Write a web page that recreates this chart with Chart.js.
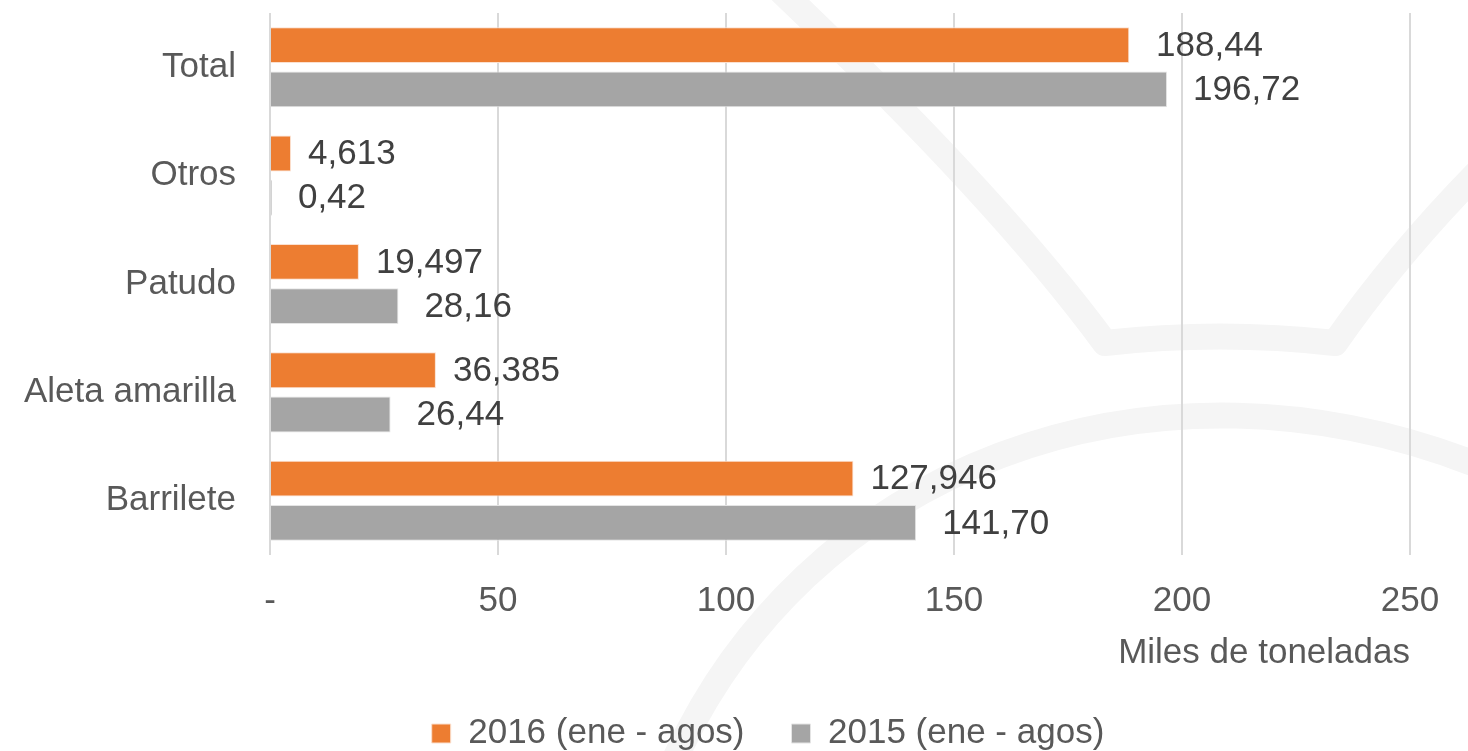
<!DOCTYPE html>
<html>
<head>
<meta charset="utf-8">
<script src="https://cdn.jsdelivr.net/npm/chart.js@4/dist/chart.umd.min.js"></script>
<style>
  html, body { margin: 0; padding: 0; background: #fff; }
  #wrap { width: 1468px; height: 751px; position: relative; }
</style>
</head>
<body>
<div id="wrap"><canvas id="capturasChart"></canvas></div>
<script>
// Datos del gráfico (miles de toneladas)
const especies = ['Total', 'Otros', 'Patudo', 'Aleta amarilla', 'Barrilete'];
const serie2016 = [188.44, 4.613, 19.497, 36.385, 127.946];
const serie2015 = [196.72, 0.42, 28.16, 26.44, 141.70];
const etiquetas2016 = [' 188,44', '4,613', '19,497', '36,385', '127,946'];
const etiquetas2015 = ['196,72', '0,42', '28,16', '26,44', '141,70'];
const ticksX = [0, 50, 100, 150, 200, 250];

const FONT = "'Liberation Sans', Arial, sans-serif";

// Marca de agua de fondo (trazos muy claros)
const marcaAgua = {
    id: 'marcaAgua',
    beforeDraw(chart) {
        const ctx = chart.ctx;
        ctx.save();
        ctx.strokeStyle = '#f5f5f5';
        ctx.lineWidth = 26;
        ctx.lineJoin = 'round';
        ctx.beginPath();
        ctx.moveTo(780, -10);
        ctx.quadraticCurveTo(1000, 200, 1105, 343);
        ctx.quadraticCurveTo(1220, 330, 1335, 343);
        ctx.quadraticCurveTo(1400, 250, 1490, 160);
        ctx.stroke();
        ctx.beginPath();
        ctx.moveTo(670, 770);
        ctx.bezierCurveTo(800, 470, 1150, 330, 1490, 470);
        ctx.stroke();
        ctx.restore();
    }
};

// Etiquetas de valor al final de cada barra
const etiquetasValor = {
    id: 'etiquetasValor',
    afterDatasetsDraw(chart) {
        const ctx = chart.ctx;
        const textos = [etiquetas2016, etiquetas2015];
        const gaps = [17, 26];
        ctx.save();
        ctx.font = '35px ' + FONT;
        ctx.fillStyle = '#404040';
        ctx.textBaseline = 'middle';
        ctx.textAlign = 'left';
        chart.data.datasets.forEach((ds, i) => {
            chart.getDatasetMeta(i).data.forEach((bar, j) => {
                ctx.fillText(textos[i][j], bar.x + gaps[i], bar.y + 1);
            });
        });
        ctx.restore();
    }
};

new Chart(document.getElementById('capturasChart').getContext('2d'), {
    type: 'bar',
    data: {
        labels: especies,
        datasets: [{
            label: '2016 (ene - agos)',
            data: serie2016,
            backgroundColor: '#ED7D31',
            borderColor: '#fbe0cf',
            borderWidth: 1,
            categoryPercentage: 0.817,
            barPercentage: 0.81
        }, {
            label: '2015 (ene - agos)',
            data: serie2015,
            backgroundColor: '#A5A5A5',
            borderColor: '#e4e4e4',
            borderWidth: 1,
            categoryPercentage: 0.817,
            barPercentage: 0.81
        }]
    },
    options: {
        indexAxis: 'y',
        responsive: true,
        maintainAspectRatio: false,
        animation: false,
        // padding derecho negativo + eje vacío a la derecha para centrar la leyenda como el original
        layout: { padding: { top: 13, right: -68, left: 0, bottom: 0 } },
        scales: {
            x: {
                min: 0,
                max: 250,
                afterBuildTicks: (scale) => { scale.ticks = ticksX.map(v => ({ value: v })); },
                afterFit: (scale) => { scale.height = 114; },
                grid: { color: '#d9d9d9', lineWidth: 2, drawTicks: false },
                border: { display: false },
                ticks: {
                    color: '#595959',
                    padding: 25,
                    font: { family: FONT, size: 35 },
                    callback: (v) => v === 0 ? '-' : v
                },
                title: {
                    display: true,
                    text: 'Miles de toneladas',
                    align: 'end',
                    color: '#595959',
                    font: { family: FONT, size: 35 },
                    padding: { top: 0, bottom: -5 }
                }
            },
            y: {
                afterFit: (scale) => {
                    scale.width = 270;
                    scale.paddingTop = 0;
                    scale.paddingBottom = 0;
                },
                grid: { display: false, drawTicks: false },
                border: { display: false },
                ticks: {
                    color: '#595959',
                    padding: 34,
                    font: { family: FONT, size: 35 }
                }
            },
            margenDerecho: {
                type: 'linear',
                position: 'right',
                afterFit: (scale) => {
                    scale.width = 126;
                    scale.paddingTop = 0;
                    scale.paddingBottom = 0;
                },
                grid: { display: false, drawTicks: false },
                border: { display: false },
                ticks: { display: false }
            }
        },
        plugins: {
            legend: {
                position: 'bottom',
                maxHeight: 82,
                labels: {
                    color: '#595959',
                    boxWidth: 19,
                    boxHeight: 19,
                    padding: 47,
                    font: { family: FONT, size: 35 }
                }
            },
            tooltip: { enabled: false }
        }
    },
    plugins: [marcaAgua, etiquetasValor]
});
</script>
</body>
</html>
